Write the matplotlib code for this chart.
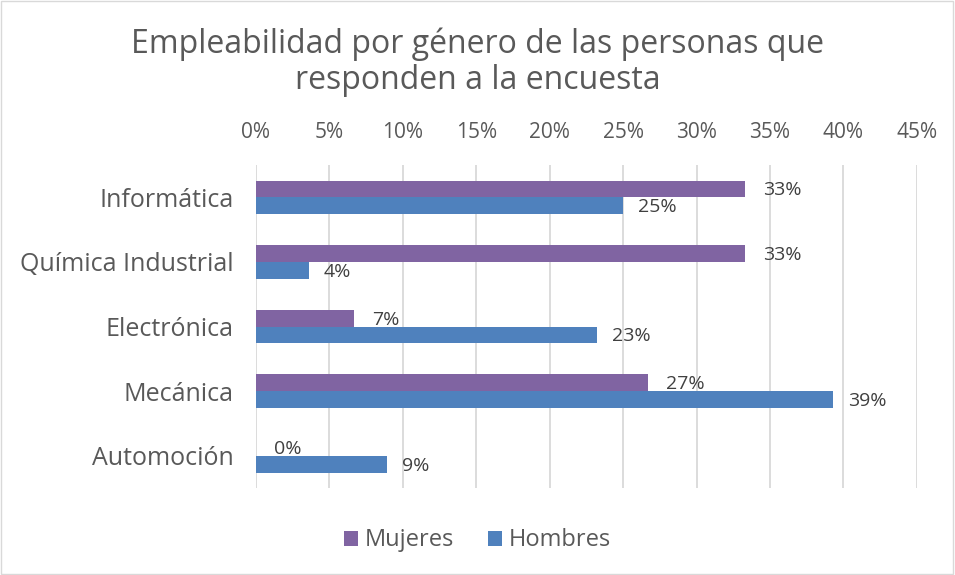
import matplotlib.pyplot as plt
from matplotlib.patches import Rectangle
import numpy as np

plt.rcParams['font.family'] = ['Open Sans', 'DejaVu Sans']

# Datos
categorias = ["Informática", "Química Industrial", "Electrónica", "Mecánica", "Automoción"]
mujeres = [0.333, 0.333, 0.067, 0.267, 0.0]
hombres = [0.25, 0.036, 0.232, 0.393, 0.089]
etiquetas_x = ["0%", "5%", "10%", "15%", "20%", "25%", "30%", "35%", "40%", "45%"]

gris = "#595959"
color_m = "#8064A2"
color_h = "#4F81BD"

fig = plt.figure(figsize=(9.55, 5.75), dpi=100)
ax = fig.add_axes([0.268, 0.151, 0.692, 0.562])

y = np.arange(len(categorias))
alto = 0.26
ax.barh(y - alto / 2, mujeres, height=alto, color=color_m, label="Mujeres", zorder=2)
ax.barh(y + alto / 2, hombres, height=alto, color=color_h, label="Hombres", zorder=2)

for i in range(len(categorias)):
    ax.annotate(f"{mujeres[i]*100:.0f}%", (mujeres[i], y[i] - alto / 2), xytext=(13, -1),
                textcoords="offset points", va="center", ha="left", fontsize=14, color="#404040")
    ax.annotate(f"{hombres[i]*100:.0f}%", (hombres[i], y[i] + alto / 2), xytext=(11, -1),
                textcoords="offset points", va="center", ha="left", fontsize=14, color="#404040")

ax.set_xlim(0, 0.45)
ax.set_ylim(4.5, -0.5)
ax.set_xticks(np.arange(0, 0.46, 0.05))
ax.set_xticklabels(etiquetas_x)
ax.xaxis.tick_top()
ax.tick_params(axis='x', length=0, pad=16, labelsize=15, labelcolor=gris)
ax.set_yticks(y)
ax.set_yticklabels(categorias)
ax.tick_params(axis='y', length=0, pad=16, labelsize=18, labelcolor=gris)
ax.grid(axis='x', color="#D9D9D9", linewidth=1.3, zorder=0)
for s in ax.spines.values():
    s.set_visible(False)

fig.text(0.5, 0.953, "Empleabilidad por género de las personas que\nresponden a la encuesta",
         ha="center", va="top", fontsize=23, color=gris, linespacing=1.15)

fig.legend(loc="center", bbox_to_anchor=(0.5, 0.06), ncol=2, frameon=False, fontsize=17,
           handlelength=0.6, handleheight=0.6, handletextpad=0.3, columnspacing=1.4,
           labelcolor=gris)

fig.patches.append(Rectangle((0.001, 0.002), 0.997, 0.996, transform=fig.transFigure,
                             fill=False, edgecolor="#D9D9D9", linewidth=1))

fig.savefig("out.png", dpi=100)
